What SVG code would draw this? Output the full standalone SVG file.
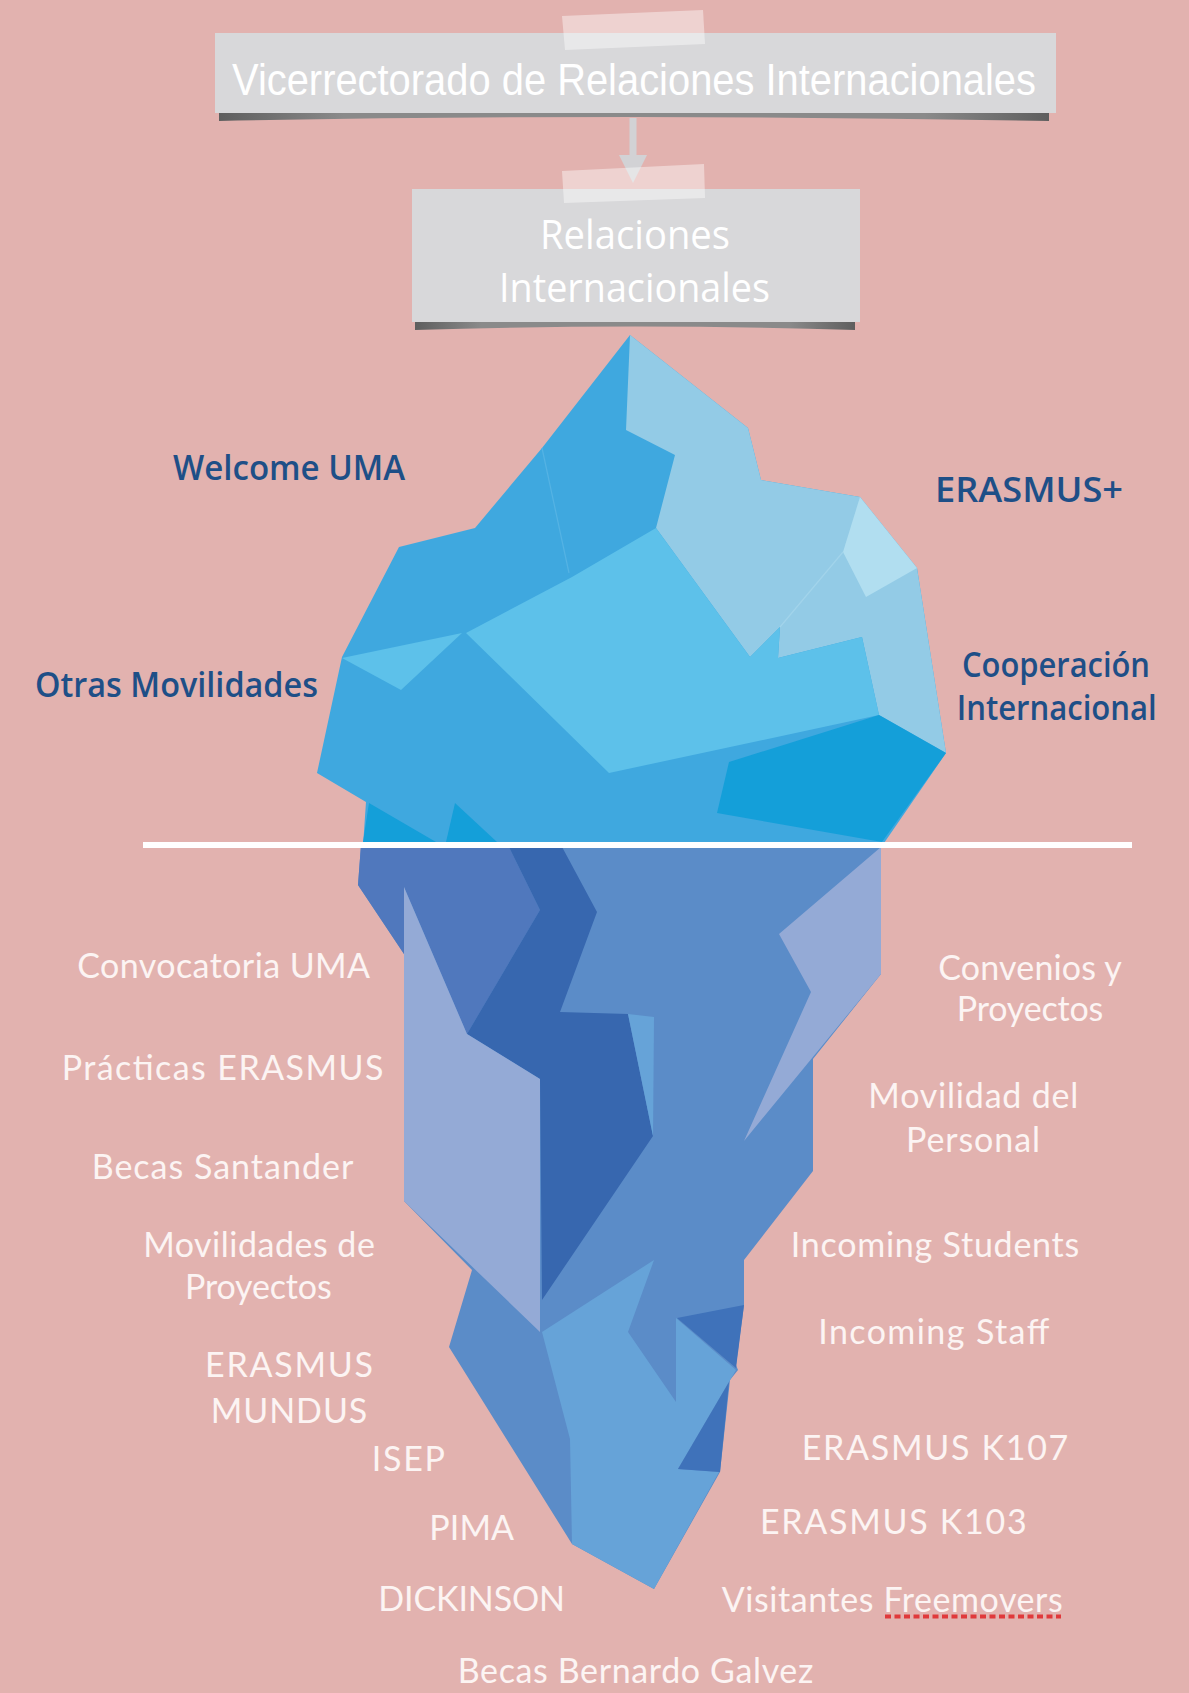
<svg xmlns="http://www.w3.org/2000/svg" width="1189" height="1693" viewBox="0 0 1189 1693">
  <defs>
    <style>
      .box { fill: #D8D8DA; }
      .tape { fill: #FFFFFF; fill-opacity: 0.42; }
      .title { font-family: 'Liberation Sans', Arial, sans-serif; fill: #FFFFFF; }
      .boxtxt { font-family: 'Open Sans', 'Liberation Sans', sans-serif; fill: #FFFFFF; font-size: 40px; }
      .above { font-family: 'Open Sans', 'Liberation Sans', sans-serif; fill: #1E4F87; font-weight: 600; font-size: 35px; }
      .below { font-family: Lato, 'Open Sans', 'Liberation Sans', sans-serif; fill: #FCF4F3; font-size: 34px; }
      .conn { stroke: #D2D2D5; stroke-width: 7; fill: none; }
    </style>
    <linearGradient id="curl" x1="0" y1="0" x2="1" y2="0">
      <stop offset="0" stop-color="#5E5E5E"/>
      <stop offset="0.15" stop-color="#8A8A8A"/>
      <stop offset="0.85" stop-color="#8A8A8A"/>
      <stop offset="1" stop-color="#5E5E5E"/>
    </linearGradient>
    <marker id="arrow" viewBox="0 0 28 28" refX="0" refY="14" markerWidth="28" markerHeight="28" markerUnits="userSpaceOnUse" orient="auto">
      <path d="M0,0 L28,14 L0,28 Z" fill="#D2D2D5"/>
    </marker>
  </defs>

  <!-- background -->
  <rect x="0" y="0" width="1189" height="1693" fill="#E2B2AF"/>

  <!-- connectors -->
  <g id="connectors">
    <line class="conn" x1="633" y1="118" x2="633" y2="155" marker-end="url(#arrow)"/>
  </g>

  <!-- top box -->
  <g id="node-vicerrectorado">
    <path d="M219,112 L1049,112 L1049,121 Q634,113 219,121 Z" fill="url(#curl)"/>
    <rect class="box" x="215" y="33" width="841" height="80"/>
    <polygon class="tape" points="562,16 703,10 705,44 565,50"/>
    <text class="title" x="634" y="95" font-size="45" text-anchor="middle" textLength="804" lengthAdjust="spacingAndGlyphs">Vicerrectorado de Relaciones Internacionales</text>
  </g>

  <!-- second box -->
  <g id="node-relaciones">
    <path d="M415,321 L855,321 L855,330 Q635,323 415,330 Z" fill="url(#curl)"/>
    <rect class="box" x="412" y="189" width="448" height="133"/>
    <polygon class="tape" points="562,171 704,164 705,198 564,203"/>
    <text class="boxtxt" x="635" y="249" text-anchor="middle" textLength="190" lengthAdjust="spacingAndGlyphs">Relaciones</text>
    <text class="boxtxt" x="634.5" y="302" text-anchor="middle" textLength="271" lengthAdjust="spacingAndGlyphs">Internacionales</text>
  </g>

  <!-- iceberg: visible tip -->
  <g id="iceberg-tip">
    <polygon fill="#3FA8DF" points="630,335 748,428 761,480 860,497 917,568 946,753 882,846 363,846 366,802 317,773 342,657 399,547 475,528 542,448"/>
    <line x1="542" y1="448" x2="569" y2="573" stroke="#55B3E4" stroke-width="1.2"/>
    <polygon fill="#93CBE6" points="630,335 748,428 761,480 860,497 917,568 946,753 879,715 862,637 778,658 780,627 750,657 656,528 675,455 626,430"/>
    <polygon fill="#B1DEF0" points="860,497 917,568 866,597 843,552"/>
    <line x1="843" y1="552" x2="780" y2="627" stroke="#A2D4EB" stroke-width="1.2"/>
    <polygon fill="#5DC1EA" points="656,528 750,657 780,627 778,658 862,637 879,715 609,773 466,633 572,577"/>
    <polygon fill="#5DC1EA" points="342,658 462,633 401,690"/>
    <polygon fill="#149FD9" points="879,715 946,753 882,842 717,813 729,762"/>
    <polygon fill="#149FD9" points="369,803 436,842 363,842"/>
    <polygon fill="#149FD9" points="455,803 446,842 497,842"/>
  </g>

  <!-- iceberg: submerged part -->
  <g id="iceberg-base">
    <polygon fill="#5B8CC8" points="361,845 881,845 881,974 813,1059 813,1171 744,1260 744,1305 736,1365 738,1370 730,1380 720,1472 654,1589 572,1544 449,1347 472,1270 404,1201 404,954 358,885"/>
    <polygon fill="#5078BD" points="361,845 508,845 540,910 467,1034 404,887 404,954 358,885"/>
    <polygon fill="#3767AF" points="508,845 561,845 597,912 560,1012 628,1014 653,1136 542,1300 540,1079 467,1034 540,910"/>
    <polygon fill="#94AAD6" points="404,887 467,1034 540,1079 540,1332 404,1201"/>
    <polygon fill="#94AAD6" points="881,847 779,934 811,992 744,1141 881,974"/>
    <polygon fill="#66A3D8" points="628,1014 654,1017 653,1136"/>
    <polygon fill="#66A3D8" points="542,1332 654,1260 628,1332 676,1402 676,1318 736,1370 678,1469 719,1472 654,1589 572,1544 570,1439"/>
    <polygon fill="#3F72BA" points="677,1318 744,1305 736,1368"/>
    <polygon fill="#3F72BA" points="678,1469 729,1382 720,1472"/>
  </g>

  <!-- waterline -->
  <rect x="143" y="842" width="989" height="6" fill="#FFFFFF"/>

  <!-- labels above the waterline -->
  <g id="labels-above">
    <text id="lbl-welcome" class="above" x="289" y="480" font-size="37" text-anchor="middle" textLength="232" lengthAdjust="spacingAndGlyphs">Welcome UMA</text>
    <text id="lbl-otras" class="above" x="176.5" y="697" text-anchor="middle" textLength="283" lengthAdjust="spacingAndGlyphs">Otras Movilidades</text>
    <text id="lbl-erasmusplus" class="above" x="1029" y="502" text-anchor="middle" textLength="188" lengthAdjust="spacingAndGlyphs">ERASMUS+</text>
    <text id="lbl-coop1" class="above" x="1056" y="677" text-anchor="middle" textLength="188" lengthAdjust="spacingAndGlyphs">Cooperación</text>
    <text id="lbl-coop2" class="above" x="1056.7" y="720" text-anchor="middle" textLength="200" lengthAdjust="spacingAndGlyphs">Internacional</text>
  </g>

  <!-- labels below the waterline -->
  <g id="labels-below">
    <text class="below" x="223.7" y="978" text-anchor="middle" textLength="292.7" lengthAdjust="spacing">Convocatoria UMA</text>
    <text class="below" x="222.5" y="1080" text-anchor="middle" textLength="321.7" lengthAdjust="spacing">Prácticas ERASMUS</text>
    <text class="below" x="222.5" y="1179" text-anchor="middle" textLength="261.7" lengthAdjust="spacing">Becas Santander</text>
    <text class="below" x="259" y="1257" text-anchor="middle" textLength="231.7" lengthAdjust="spacing">Movilidades de</text>
    <text class="below" x="258.3" y="1299" text-anchor="middle" textLength="146.7" lengthAdjust="spacing">Proyectos</text>
    <text class="below" x="289" y="1377" text-anchor="middle" textLength="168" lengthAdjust="spacing">ERASMUS</text>
    <text class="below" x="289" y="1423" text-anchor="middle" textLength="156.6" lengthAdjust="spacing">MUNDUS</text>
    <text class="below" x="408.3" y="1471" text-anchor="middle" textLength="73.3" lengthAdjust="spacing">ISEP</text>
    <text class="below" x="471.7" y="1540" text-anchor="middle" textLength="84.7" lengthAdjust="spacing">PIMA</text>
    <text class="below" x="471.7" y="1611" text-anchor="middle" textLength="186.7" lengthAdjust="spacing">DICKINSON</text>
    <text class="below" x="635.5" y="1683" text-anchor="middle" textLength="355.6" lengthAdjust="spacing">Becas Bernardo Galvez</text>

    <text class="below" x="1030" y="980" text-anchor="middle" textLength="183.4" lengthAdjust="spacing">Convenios y</text>
    <text class="below" x="1030" y="1021" text-anchor="middle" textLength="146.6" lengthAdjust="spacing">Proyectos</text>
    <text class="below" x="973.3" y="1108" text-anchor="middle" textLength="210" lengthAdjust="spacing">Movilidad del</text>
    <text class="below" x="973" y="1152" text-anchor="middle" textLength="134" lengthAdjust="spacing">Personal</text>
    <text class="below" x="935" y="1257" text-anchor="middle" textLength="288.6" lengthAdjust="spacing">Incoming Students</text>
    <text class="below" x="933.8" y="1344" text-anchor="middle" textLength="231" lengthAdjust="spacing">Incoming Staff</text>
    <text class="below" x="935" y="1460" text-anchor="middle" textLength="266.7" lengthAdjust="spacing">ERASMUS K107</text>
    <text class="below" x="893.3" y="1534" text-anchor="middle" textLength="266.7" lengthAdjust="spacing">ERASMUS K103</text>
    <text class="below" x="892.2" y="1611.5" text-anchor="middle" textLength="341" lengthAdjust="spacing">Visitantes Freemovers</text>
    <line x1="885" y1="1616.5" x2="1061" y2="1616.5" stroke="#E0393B" stroke-width="4" stroke-dasharray="6 3.5"/>
  </g>
</svg>
